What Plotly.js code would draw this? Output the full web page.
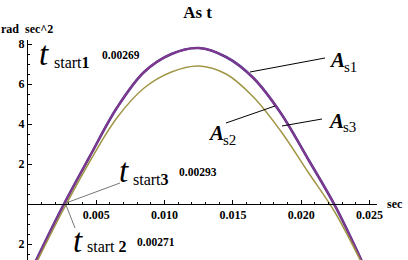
<!DOCTYPE html>
<html><head><meta charset="utf-8">
<script src="https://cdn.plot.ly/plotly-3.0.1.min.js"></script>
<style>html,body{margin:0;padding:0;background:#fff}#c{width:408px;height:260px}</style>
</head><body><div id="c"></div>
<script>
// time (sec)
const tS = [0.0005,0.0025,0.0045,0.0065,0.0085,0.0105,0.0125,0.0145,0.0165,0.0185,0.0205,0.0225,0.0245];
const As1 = [-2.95,-0.18,2.35,4.8,6.6,7.5,7.8,7.35,6.3,4.55,2.25,-0.12,-2.95];
const As2 = [-2.95,-0.18,2.35,4.8,6.6,7.5,7.8,7.35,6.3,4.55,2.25,-0.12,-2.95];
const As3 = [-3.1,-0.4,2.1,4.3,5.8,6.6,6.9,6.5,5.35,3.65,1.6,-0.45,-3.05];
const xTicks = [0.005,0.010,0.015,0.020,0.025];
const xTickText = ["0.005","0.010","0.015","0.020","0.025"];
const yTicks = [-2,2,4,6,8];
const yTickText = ["2","2","4","6","8"];
const tStartLabels = ["0.00269","0.00271","0.00293"];

const W=408,H=260,L=28,R=31,T=40,B=0;
const pw=W-L-R, ph=H-T-B;
const X=p=>(p-L)/pw, Y=p=>(H-B-p)/ph;
const serif="Liberation Serif, Times New Roman, serif";

const traces=[
 {x:tS,y:As1,mode:'lines',line:{color:'rgb(70,60,150)',width:2.6,shape:'spline',smoothing:1},name:'As1'},
 {x:tS,y:As2,mode:'lines',line:{color:'rgb(130,55,140)',width:1.9,shape:'spline',smoothing:1},name:'As2'},
 {x:tS,y:As3,mode:'lines',line:{color:'rgb(160,150,70)',width:1.5,shape:'spline',smoothing:1},name:'As3'}
];

function txt(px,py,s,size,anchor,extra){
  return Object.assign({xref:'paper',yref:'paper',x:X(px),y:Y(py),text:s,showarrow:false,
    xanchor:anchor||'left',yanchor:'middle',font:{family:serif,size:size,color:'#000'}},extra||{});
}
function ln(x0,y0,x1,y1,c){
  return {type:'line',xref:'paper',yref:'paper',x0:X(x0),y0:Y(y0),x1:X(x1),y1:Y(y1),line:{color:c||'#000',width:1}};
}
const ann=[
 txt(-1,29,'<b>rad&nbsp;&nbsp;sec^2</b>',12,'left'),
 txt(385,204,'<b>sec</b>',12,'left'),
 // t_start1
 txt(37,54,'<i>t</i>',33,'left'),
 txt(52,63,'start<b>1</b>',16,'left'),
 txt(121,55,'<b>'+tStartLabels[0]+'</b>',11.5,'center'),
 // t_start3
 txt(117,171,'<i>t</i>',33,'left'),
 txt(131,179,'start<b>3</b>',16,'left'),
 txt(198,172,'<b>'+tStartLabels[2]+'</b>',11.5,'center'),
 // t_start2
 txt(71,241,'<i>t</i>',33,'left'),
 txt(85,246,'start <b>2</b>',16,'left'),
 txt(156,242,'<b>'+tStartLabels[1]+'</b>',11.5,'center'),
 // A labels
 txt(327,60,'<b><i>A</i></b>',21,'left'),
 txt(342,67,'s1',15,'left'),
 txt(326,121,'<b><i>A</i></b>',21,'left'),
 txt(341,127,'s3',15,'left'),
 txt(206,133,'<b><i>A</i></b>',21,'left'),
 txt(221,140,'s2',15,'left')
];
const shapes=[
 ln(250,72,325,58),
 ln(275,106,226,123),
 ln(282,126,322,119),
 ln(66,203,120,183,'#777'),
 ln(66,205,75,228,'#777')
];
const layout={
 width:W,height:H,margin:{l:L,r:R,t:T,b:B,pad:0},
 paper_bgcolor:'#fff',plot_bgcolor:'#fff',showlegend:false,
 title:{text:'<b>As t</b>',x:X(197),xanchor:'center',y:1-12/H,yanchor:'middle',font:{family:serif,size:17,color:'#000'}},
 xaxis:{range:[0,pw/13660],anchor:'free',position:2.8/11,side:'bottom',showgrid:false,zeroline:false,
   showline:true,linecolor:'#000',linewidth:1,ticks:'inside',ticklen:4,tickcolor:'#000',tickwidth:1,
   tickvals:xTicks,ticktext:xTickText,tickfont:{family:serif,size:12,color:'#000',weight:'bold'},
   minor:{ticks:'inside',ticklen:2,dtick:0.001,tick0:0,tickcolor:'#000',showgrid:false}},
 yaxis:{range:[-2.8,8.2],showgrid:false,zeroline:false,showline:true,linecolor:'#000',linewidth:1,
   ticks:'inside',ticklen:4,tickcolor:'#000',tickwidth:1,tickvals:yTicks,ticktext:yTickText,
   tickfont:{family:serif,size:12,color:'#000',weight:'bold'},
   minor:{ticks:'inside',ticklen:2,dtick:0.5,tick0:0,tickcolor:'#000',showgrid:false}},
 annotations:ann,shapes:shapes
};
Plotly.newPlot('c',traces,layout,{staticPlot:true,displayModeBar:false});
</script></body></html>
